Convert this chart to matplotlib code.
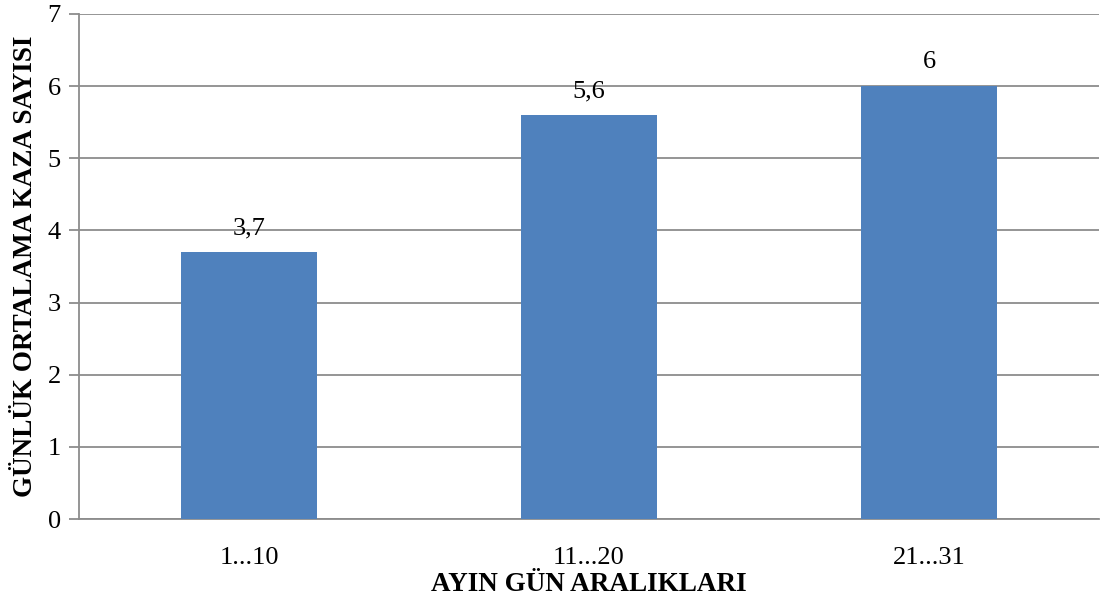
import matplotlib
matplotlib.use("Agg")
import matplotlib.pyplot as plt
import numpy as np

plt.rcParams['font.family'] = ['Liberation Serif', 'DejaVu Serif']

# chart data
categories = ["1...10", "11...20", "21...31"]
values = [3.7, 5.6, 6]
value_labels = ["3,7", "5,6", "6"]

fig = plt.figure(figsize=(11.01, 6.03), dpi=100)
ax = fig.add_axes([0.0718, 0.1393, 0.9264, 0.8375])

x = np.arange(len(categories))
bars = ax.bar(x, values, width=0.4, color="#4F81BD", zorder=3)

# value labels above bars
for rect, lab in zip(bars, value_labels):
    ax.text(rect.get_x() + rect.get_width() / 2, rect.get_height() + 0.18, lab,
            ha="center", va="bottom", fontsize=19)

ax.set_xlim(-0.5, len(categories) - 0.5)
ax.set_ylim(0, 7)
ax.set_yticks(range(0, 8))
ax.set_xticks(x)
ax.set_xticklabels(categories)

ax.grid(axis="y", color="#8c8c8c", linewidth=1.3, zorder=0)
for s in ["top", "right"]:
    ax.spines[s].set_visible(False)
ax.spines["left"].set_color("#8c8c8c")
ax.spines["bottom"].set_color("#8c8c8c")
ax.spines["left"].set_linewidth(1.3)
ax.spines["bottom"].set_linewidth(1.3)

ax.tick_params(axis="y", length=7, width=1.3, color="#8c8c8c", labelsize=19, pad=6)
ax.tick_params(axis="x", length=0, labelsize=19, pad=20)

ax.set_xlabel("AYIN GÜN ARALIKLARI", fontsize=19.5, fontweight="bold", labelpad=2)
ax.set_ylabel("GÜNLÜK ORTALAMA KAZA SAYISI", fontsize=19.5, fontweight="bold", labelpad=7)

fig.savefig("out.png", dpi=100)
